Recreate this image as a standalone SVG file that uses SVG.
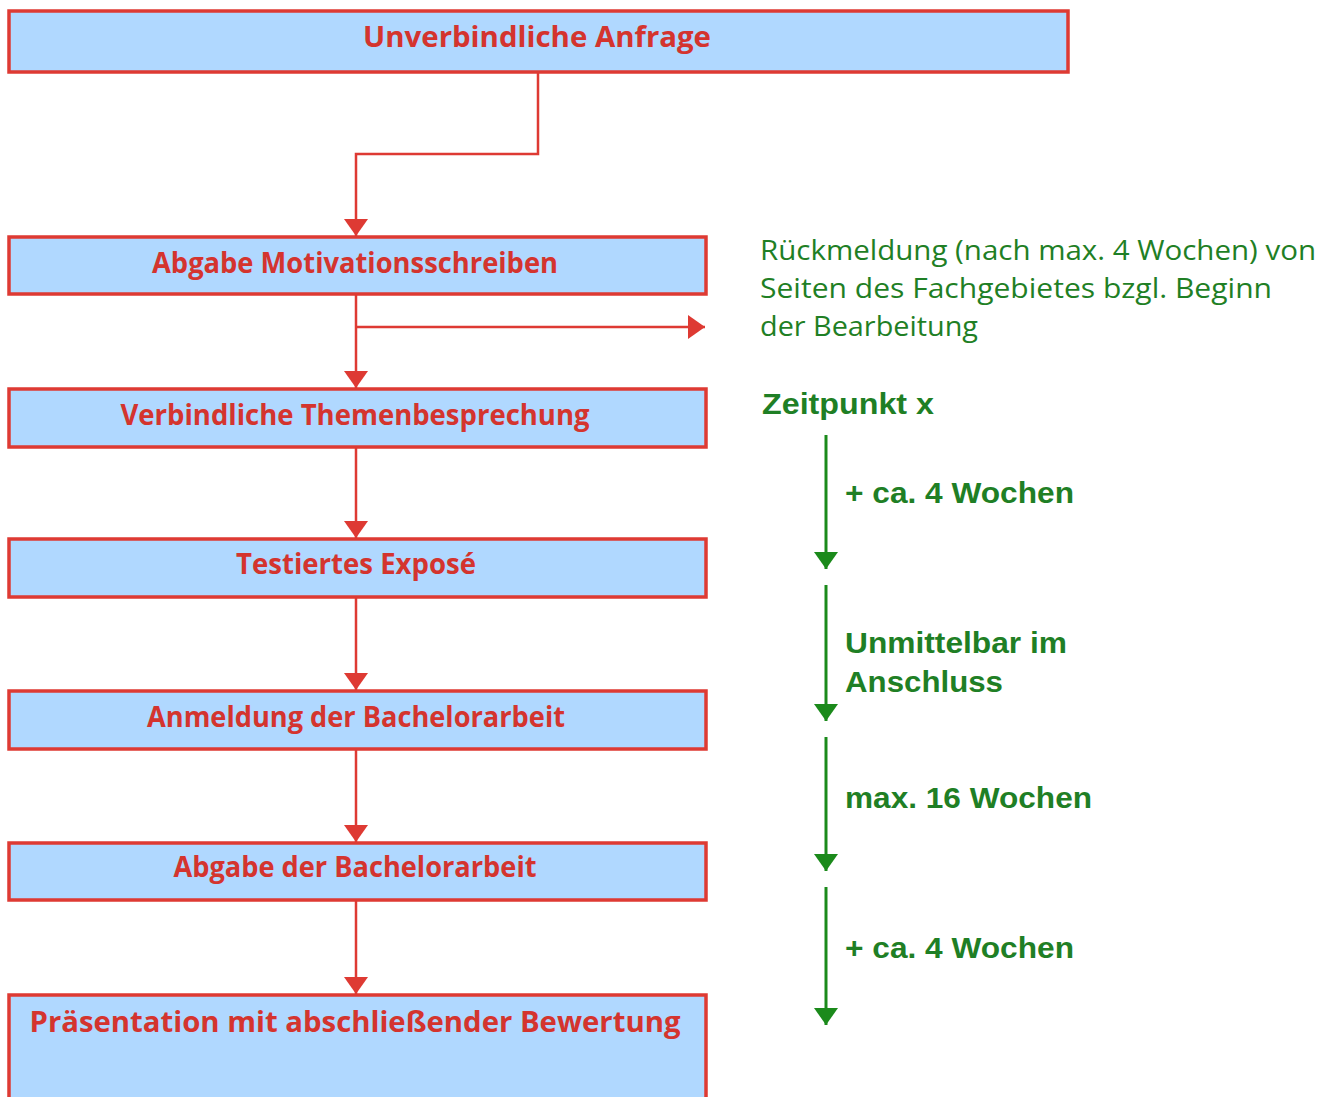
<svg xmlns="http://www.w3.org/2000/svg" width="1334" height="1097" viewBox="0 0 1334 1097">
<style>
.box{fill:#b0d8ff;stroke:#de3a33;stroke-width:3.5}
.bt{font-family:"Open Sans","Liberation Sans",sans-serif;font-weight:bold;font-size:29px;fill:#d4342e;text-anchor:middle}
.rl{fill:none;stroke:#de3a33;stroke-width:2.5}
.gl{fill:none;stroke:#1b8a1b;stroke-width:3}
.gt{font-family:"Open Sans","Liberation Sans",sans-serif;font-size:28px;fill:#1f7f25}
.gb{font-family:"Liberation Sans",Arial,sans-serif;font-weight:bold;font-size:29px;fill:#1f7f25}
</style>
<defs>
<marker id="ra" markerUnits="userSpaceOnUse" markerWidth="18" markerHeight="26" refX="17" refY="13" orient="auto"><path d="M0,1 L17,13 L0,25 Z" fill="#de3a33"/></marker>
<marker id="ga" markerUnits="userSpaceOnUse" markerWidth="18" markerHeight="24" refX="17" refY="12" orient="auto"><path d="M0,0 L17,12 L0,24 Z" fill="#1b8a1b"/></marker>
</defs>
<rect width="1334" height="1097" fill="#ffffff"/>
<g id="connectors">
<path class="rl" d="M538,72 V154 H356 V236" marker-end="url(#ra)"/>
<path class="rl" d="M356,294 V388" marker-end="url(#ra)"/>
<path class="rl" d="M356,327 H705" marker-end="url(#ra)"/>
<path class="rl" d="M356,447 V538" marker-end="url(#ra)"/>
<path class="rl" d="M356,597 V690" marker-end="url(#ra)"/>
<path class="rl" d="M356,749 V842" marker-end="url(#ra)"/>
<path class="rl" d="M356,900 V994" marker-end="url(#ra)"/>
<path class="gl" d="M826,435 V569" marker-end="url(#ga)"/>
<path class="gl" d="M826,585 V721" marker-end="url(#ga)"/>
<path class="gl" d="M826,737 V871" marker-end="url(#ga)"/>
<path class="gl" d="M826,887 V1025" marker-end="url(#ga)"/>
</g>
<g id="n1"><rect class="box" x="9" y="11" width="1059" height="61"/><text class="bt" x="537" y="47" textLength="348" lengthAdjust="spacingAndGlyphs">Unverbindliche Anfrage</text></g>
<g id="n2"><rect class="box" x="9" y="237" width="697" height="57"/><text class="bt" x="355" y="273" textLength="406" lengthAdjust="spacingAndGlyphs">Abgabe Motivationsschreiben</text></g>
<g id="n3"><rect class="box" x="9" y="389" width="697" height="58"/><text class="bt" x="355" y="425" textLength="469" lengthAdjust="spacingAndGlyphs">Verbindliche Themenbesprechung</text></g>
<g id="n4"><rect class="box" x="9" y="539" width="697" height="58"/><text class="bt" x="356" y="574" textLength="240" lengthAdjust="spacingAndGlyphs">Testiertes Exposé</text></g>
<g id="n5"><rect class="box" x="9" y="691" width="697" height="58"/><text class="bt" x="356" y="727" textLength="418" lengthAdjust="spacingAndGlyphs">Anmeldung der Bachelorarbeit</text></g>
<g id="n6"><rect class="box" x="9" y="843" width="697" height="57"/><text class="bt" x="355" y="877" textLength="363" lengthAdjust="spacingAndGlyphs">Abgabe der Bachelorarbeit</text></g>
<g id="n7"><rect class="box" x="9" y="995" width="697" height="110"/><text class="bt" x="355" y="1032" textLength="651" lengthAdjust="spacingAndGlyphs">Präsentation  mit abschließender Bewertung</text></g>
<g id="labels">
<text class="gt" x="760" y="260" textLength="556" lengthAdjust="spacingAndGlyphs">Rückmeldung (nach max. 4 Wochen) von</text>
<text class="gt" x="760" y="298" textLength="512" lengthAdjust="spacingAndGlyphs">Seiten des Fachgebietes bzgl. Beginn</text>
<text class="gt" x="760" y="336" textLength="218" lengthAdjust="spacingAndGlyphs">der Bearbeitung</text>
<text class="gb" x="762" y="414" textLength="172" lengthAdjust="spacingAndGlyphs">Zeitpunkt  x</text>
<text class="gb" x="845" y="503" textLength="229" lengthAdjust="spacingAndGlyphs">+ ca. 4 Wochen</text>
<text class="gb" x="845" y="653" textLength="222" lengthAdjust="spacingAndGlyphs">Unmittelbar  im</text>
<text class="gb" x="845" y="692" textLength="158" lengthAdjust="spacingAndGlyphs">Anschluss</text>
<text class="gb" x="845" y="808" textLength="247" lengthAdjust="spacingAndGlyphs">max.  16 Wochen</text>
<text class="gb" x="845" y="958" textLength="229" lengthAdjust="spacingAndGlyphs">+ ca. 4 Wochen</text>
</g>
</svg>
